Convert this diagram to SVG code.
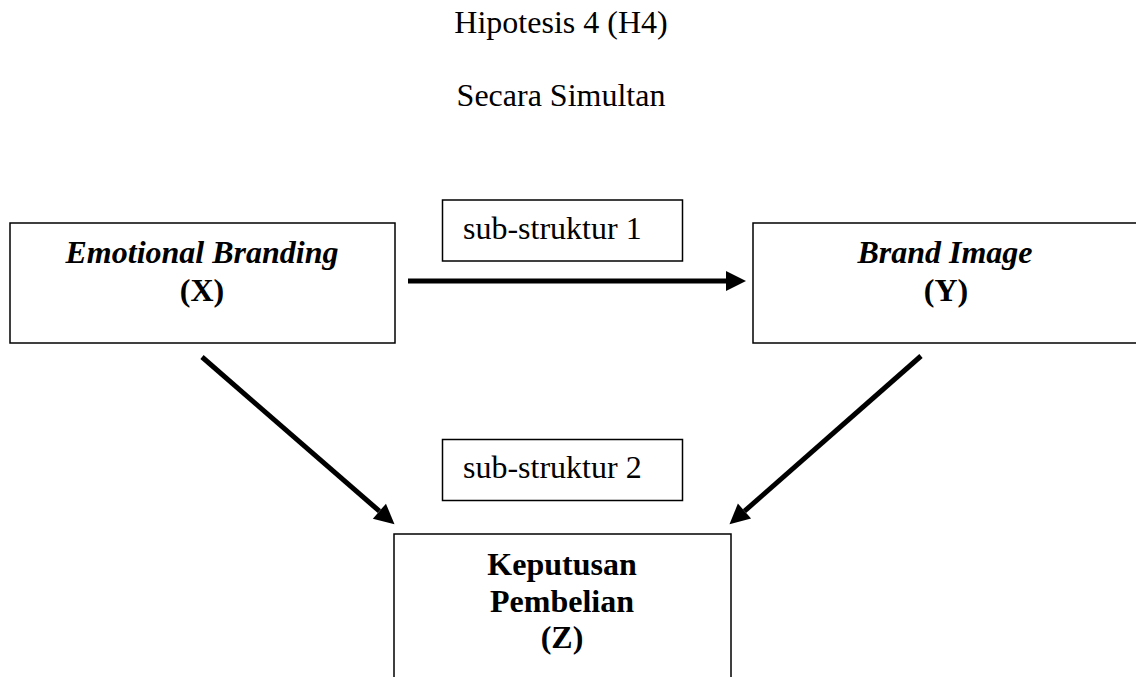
<svg xmlns="http://www.w3.org/2000/svg" width="1136" height="677" viewBox="0 0 1136 677">
<style>
text{font-family:"Liberation Serif","Times New Roman",serif;font-size:32px;fill:#000}
.c{text-anchor:middle}
.bi{font-weight:bold;font-style:italic}
.b{font-weight:bold}
.box{fill:#fff;stroke:#000;stroke-width:1.5}
.arr{stroke:#000;stroke-width:5;fill:none;marker-end:url(#ah)}
</style>
<defs>
<marker id="ah" markerUnits="userSpaceOnUse" markerWidth="20" markerHeight="20" refX="0" refY="9" orient="auto" viewBox="0 0 18 18" overflow="visible">
<path d="M0,0 L18,9 L0,18 z" fill="#000"/>
</marker>
</defs>
<g id="title">
<text class="c" x="561" y="33">Hipotesis 4 (H4)</text>
<text class="c" x="561" y="106">Secara Simultan</text>
</g>
<g id="connectors">
<line class="arr" x1="408" y1="281" x2="726" y2="281"/>
<line class="arr" x1="202" y1="357" x2="379.4" y2="511.2"/>
<line class="arr" x1="921" y1="356" x2="744.5" y2="511.1"/>
</g>
<g id="nodeX">
<rect class="box" x="10" y="223" width="385" height="120"/>
<text class="c bi" x="202" y="263">Emotional Branding</text>
<text class="c b" x="202" y="301">(X)</text>
</g>
<g id="nodeY">
<rect class="box" x="753" y="223" width="390" height="120"/>
<text class="c bi" x="945" y="263">Brand Image</text>
<text class="c b" x="946" y="301">(Y)</text>
</g>
<g id="label1">
<rect class="box" x="442.5" y="200" width="240" height="61"/>
<text x="463" y="239">sub-struktur 1</text>
</g>
<g id="label2">
<rect class="box" x="442.5" y="439.5" width="240" height="61"/>
<text x="463" y="478">sub-struktur 2</text>
</g>
<g id="nodeZ">
<rect class="box" x="394" y="534" width="337" height="160"/>
<text class="c b" x="562" y="575">Keputusan</text>
<text class="c b" x="562" y="612">Pembelian</text>
<text class="c b" x="562" y="648">(Z)</text>
</g>
</svg>
